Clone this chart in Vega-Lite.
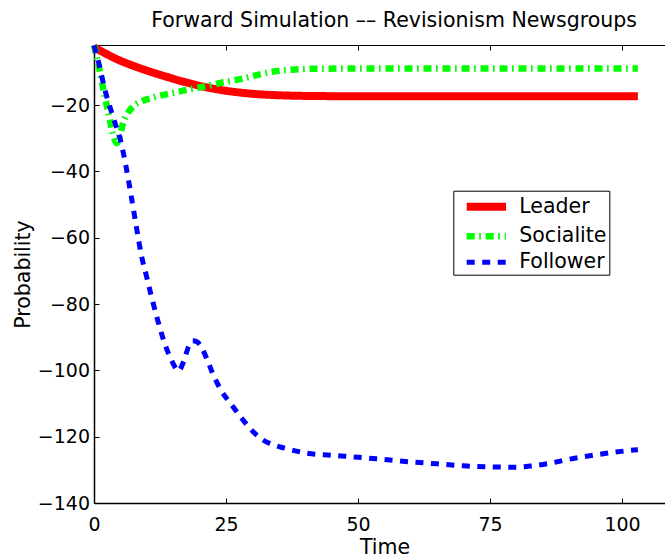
{
  "$schema": "https://vega.github.io/schema/vega-lite/v6.json",
  "autosize": {"type": "none"},
  "padding": {"left": 94, "top": 45, "right": 0, "bottom": 56},
  "width": 571,
  "height": 458,
  "background": "white",
  "title": {
    "text": "Forward Simulation –– Revisionism Newsgroups",
    "anchor": "end",
    "frame": "group",
    "dx": -28,
    "dy": 33,
    "offset": 12.5,
    "baseline": "bottom",
    "font": "DejaVu Sans",
    "fontSize": 20.5,
    "fontWeight": "normal",
    "color": "black"
  },
  "config": {
    "view": {"stroke": null},
    "axis": {
      "labelFont": "DejaVu Sans",
      "labelFontSize": 19,
      "labelColor": "black",
      "labelFlush": false,
      "titleFont": "DejaVu Sans",
      "titleFontSize": 20.5,
      "titleFontWeight": "normal",
      "titleColor": "black",
      "domainColor": "black",
      "tickColor": "black",
      "grid": false,
      "tickSize": -5,
      "tickWidth": 1
    },
    "legend": {
      "labelFont": "DejaVu Sans",
      "labelFontSize": 20.5,
      "labelColor": "black"
    }
  },
  "data": {
    "values": [
      {"t": 0, "v": -2.6, "s": "Leader"},
      {"t": 2, "v": -4.3, "s": "Leader"},
      {"t": 4.5, "v": -6.3, "s": "Leader"},
      {"t": 7, "v": -7.9, "s": "Leader"},
      {"t": 10, "v": -9.6, "s": "Leader"},
      {"t": 14, "v": -11.6, "s": "Leader"},
      {"t": 17, "v": -13.0, "s": "Leader"},
      {"t": 20, "v": -14.2, "s": "Leader"},
      {"t": 25, "v": -15.7, "s": "Leader"},
      {"t": 30, "v": -16.6, "s": "Leader"},
      {"t": 35, "v": -17.05, "s": "Leader"},
      {"t": 40, "v": -17.25, "s": "Leader"},
      {"t": 50, "v": -17.35, "s": "Leader"},
      {"t": 75, "v": -17.35, "s": "Leader"},
      {"t": 103, "v": -17.35, "s": "Leader"},
      {"t": 0, "v": -2.0, "s": "Socialite"},
      {"t": 1, "v": -9.0, "s": "Socialite"},
      {"t": 2, "v": -17.0, "s": "Socialite"},
      {"t": 3, "v": -24.5, "s": "Socialite"},
      {"t": 3.7, "v": -29.5, "s": "Socialite"},
      {"t": 4.3, "v": -31.5, "s": "Socialite"},
      {"t": 5, "v": -28.5, "s": "Socialite"},
      {"t": 5.5, "v": -25.5, "s": "Socialite"},
      {"t": 6.5, "v": -22.2, "s": "Socialite"},
      {"t": 7.5, "v": -20.3, "s": "Socialite"},
      {"t": 9, "v": -18.9, "s": "Socialite"},
      {"t": 10.6, "v": -18.0, "s": "Socialite"},
      {"t": 13, "v": -17.0, "s": "Socialite"},
      {"t": 15, "v": -16.3, "s": "Socialite"},
      {"t": 18, "v": -15.3, "s": "Socialite"},
      {"t": 20.7, "v": -14.5, "s": "Socialite"},
      {"t": 24, "v": -13.3, "s": "Socialite"},
      {"t": 27.7, "v": -12.2, "s": "Socialite"},
      {"t": 31, "v": -10.9, "s": "Socialite"},
      {"t": 34, "v": -9.9, "s": "Socialite"},
      {"t": 38, "v": -9.3, "s": "Socialite"},
      {"t": 42, "v": -9.05, "s": "Socialite"},
      {"t": 50, "v": -9.0, "s": "Socialite"},
      {"t": 75, "v": -9.0, "s": "Socialite"},
      {"t": 103, "v": -9.0, "s": "Socialite"},
      {"t": 0, "v": -2.0, "s": "Follower"},
      {"t": 1, "v": -8.0, "s": "Follower"},
      {"t": 2, "v": -15.0, "s": "Follower"},
      {"t": 3, "v": -20.5, "s": "Follower"},
      {"t": 4, "v": -25.5, "s": "Follower"},
      {"t": 5, "v": -30.5, "s": "Follower"},
      {"t": 6, "v": -38.0, "s": "Follower"},
      {"t": 7, "v": -47.0, "s": "Follower"},
      {"t": 8, "v": -56.5, "s": "Follower"},
      {"t": 9, "v": -65.5, "s": "Follower"},
      {"t": 10, "v": -72.0, "s": "Follower"},
      {"t": 11, "v": -78.5, "s": "Follower"},
      {"t": 12, "v": -84.5, "s": "Follower"},
      {"t": 13, "v": -90.0, "s": "Follower"},
      {"t": 14, "v": -94.5, "s": "Follower"},
      {"t": 15, "v": -98.0, "s": "Follower"},
      {"t": 16, "v": -100.2, "s": "Follower"},
      {"t": 17, "v": -97.2, "s": "Follower"},
      {"t": 18, "v": -92.5, "s": "Follower"},
      {"t": 18.7, "v": -91.1, "s": "Follower"},
      {"t": 19.5, "v": -91.4, "s": "Follower"},
      {"t": 20.5, "v": -93.5, "s": "Follower"},
      {"t": 21.5, "v": -97.0, "s": "Follower"},
      {"t": 22.5, "v": -101.0, "s": "Follower"},
      {"t": 24, "v": -105.8, "s": "Follower"},
      {"t": 26, "v": -110.3, "s": "Follower"},
      {"t": 28, "v": -114.5, "s": "Follower"},
      {"t": 30, "v": -118.3, "s": "Follower"},
      {"t": 32, "v": -121.0, "s": "Follower"},
      {"t": 34, "v": -122.5, "s": "Follower"},
      {"t": 36, "v": -123.4, "s": "Follower"},
      {"t": 40, "v": -124.9, "s": "Follower"},
      {"t": 45, "v": -125.6, "s": "Follower"},
      {"t": 50, "v": -126.2, "s": "Follower"},
      {"t": 55, "v": -126.9, "s": "Follower"},
      {"t": 60, "v": -127.6, "s": "Follower"},
      {"t": 65, "v": -128.2, "s": "Follower"},
      {"t": 70, "v": -128.8, "s": "Follower"},
      {"t": 75, "v": -129.1, "s": "Follower"},
      {"t": 80, "v": -129.2, "s": "Follower"},
      {"t": 83, "v": -128.8, "s": "Follower"},
      {"t": 87, "v": -127.8, "s": "Follower"},
      {"t": 90, "v": -126.8, "s": "Follower"},
      {"t": 93, "v": -126.0, "s": "Follower"},
      {"t": 98, "v": -124.8, "s": "Follower"},
      {"t": 103, "v": -123.9, "s": "Follower"}
    ]
  },
  "layer": [
    {
      "mark": {"type": "line", "interpolate": "monotone", "strokeCap": "butt", "clip": false},
      "encoding": {
        "x": {
          "field": "t", "type": "quantitative",
          "scale": {"domain": [0, 108.14], "nice": false, "zero": false},
          "axis": {
            "values": [0, 25, 50, 75, 100],
            "title": "Time",
            "domainWidth": 1.5,
            "labelPadding": 17,
            "titleX": 290.5,
            "titleY": 50.5,
            "titleBaseline": "alphabetic",
            "titleAlign": "center"
          }
        },
        "y": {
          "field": "v", "type": "quantitative",
          "scale": {"domain": [-140, -1.9], "nice": false, "zero": false},
          "axis": {
            "values": [-140, -120, -100, -80, -60, -40, -20],
            "title": "Probability",
            "domainWidth": 1.5,
            "labelPadding": 9.5,
            "titleX": -64.5,
            "titleY": 229,
            "titleAngle": -90,
            "titleBaseline": "alphabetic",
            "titleAlign": "center"
          }
        },
        "color": {
          "field": "s", "type": "nominal",
          "scale": {"domain": ["Leader", "Socialite", "Follower"], "range": ["#ff0000", "#00ff00", "#0000ff"]},
          "legend": {
            "title": null,
            "orient": "none",
            "legendX": 359.3,
            "legendY": 145.7,
            "strokeColor": "black",
            "fillColor": "white",
            "padding": 2,
            "symbolType": "M-0.26,0H3.67",
            "symbolSize": 400,
            "labelOffset": 36,
            "rowPadding": -1,
            "labelExpr": "datum.label + '\u00a0\u00a0\u00a0'"
          }
        },
        "strokeDash": {
          "field": "s", "type": "nominal",
          "scale": {"domain": ["Leader", "Socialite", "Follower"], "range": [[1, 0], [8, 4.5, 1.7, 4.8], [8, 7.5]]},
          "legend": null
        },
        "strokeWidth": {
          "field": "s", "type": "nominal",
          "scale": {"domain": ["Leader", "Socialite", "Follower"], "range": [8, 5, 3]},
          "legend": null
        },
        "order": {"field": "t", "type": "quantitative"}
      }
    },
    {
      "mark": {"type": "line", "opacity": 0},
      "encoding": {
        "x": {
          "field": "t", "type": "quantitative",
          "scale": {"domain": [0, 108.14], "nice": false, "zero": false},
          "axis": {
            "orient": "top",
            "values": [0, 25, 50, 75, 100],
            "labels": false,
            "title": null,
            "domainWidth": 1,
            "minExtent": 0,
            "maxExtent": 0,
            "offset": 0
          }
        },
        "y": {
          "field": "v", "type": "quantitative",
          "scale": {"domain": [-140, -1.9], "nice": false, "zero": false}
        },
        "detail": {"field": "s", "type": "nominal"}
      }
    }
  ],
  "resolve": {"axis": {"x": "independent"}}
}
